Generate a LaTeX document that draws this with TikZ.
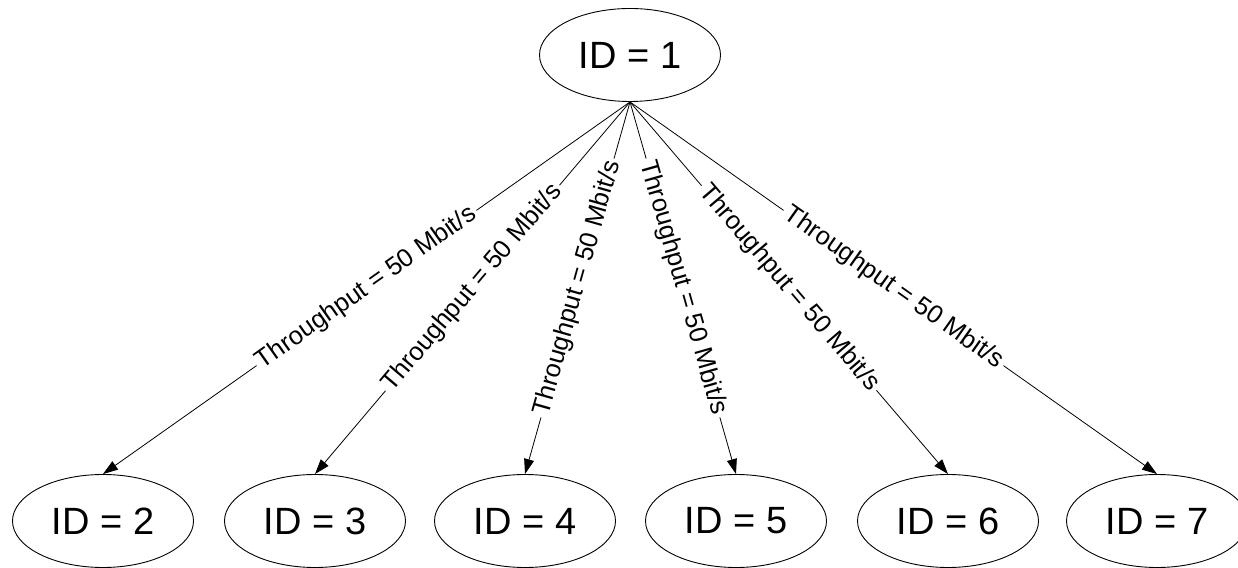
\documentclass[tikz,border=0pt]{standalone}
\usepackage{fontspec}
\setmainfont{Liberation Sans}
\usetikzlibrary{shapes.geometric,arrows.meta}
\begin{document}
\begin{tikzpicture}[x=1pt,y=1pt,
  idnode/.style={ellipse,draw,line width=0.9pt,minimum width=181pt,minimum height=93pt,inner sep=0pt,font=\fontsize{38}{40}\selectfont},
  link/.style={line width=0.8pt,-{Triangle[length=15pt,width=10pt]}},
  tplabel/.style={sloped,midway,fill=white,inner sep=3pt,font=\fontsize{25.5}{27}\selectfont}]
\useasboundingbox (0,0) rectangle (1238,567);
\node[idnode] (n1) at (630,512) {ID = 1};
\node[idnode] (n2) at (103,46) {ID = 2};
\node[idnode] (n3) at (315,46) {ID = 3};
\node[idnode] (n4) at (525,46) {ID = 4};
\node[idnode] (n5) at (736,46) {ID = 5};
\node[idnode] (n6) at (948,46) {ID = 6};
\node[idnode] (n7) at (1157,46) {ID = 7};
\foreach \t in {2,...,7}{
  \draw[link] (n1.south) -- (n\t.north) node[tplabel] {Throughput = 50 Mbit/s};
}
\end{tikzpicture}
\end{document}
